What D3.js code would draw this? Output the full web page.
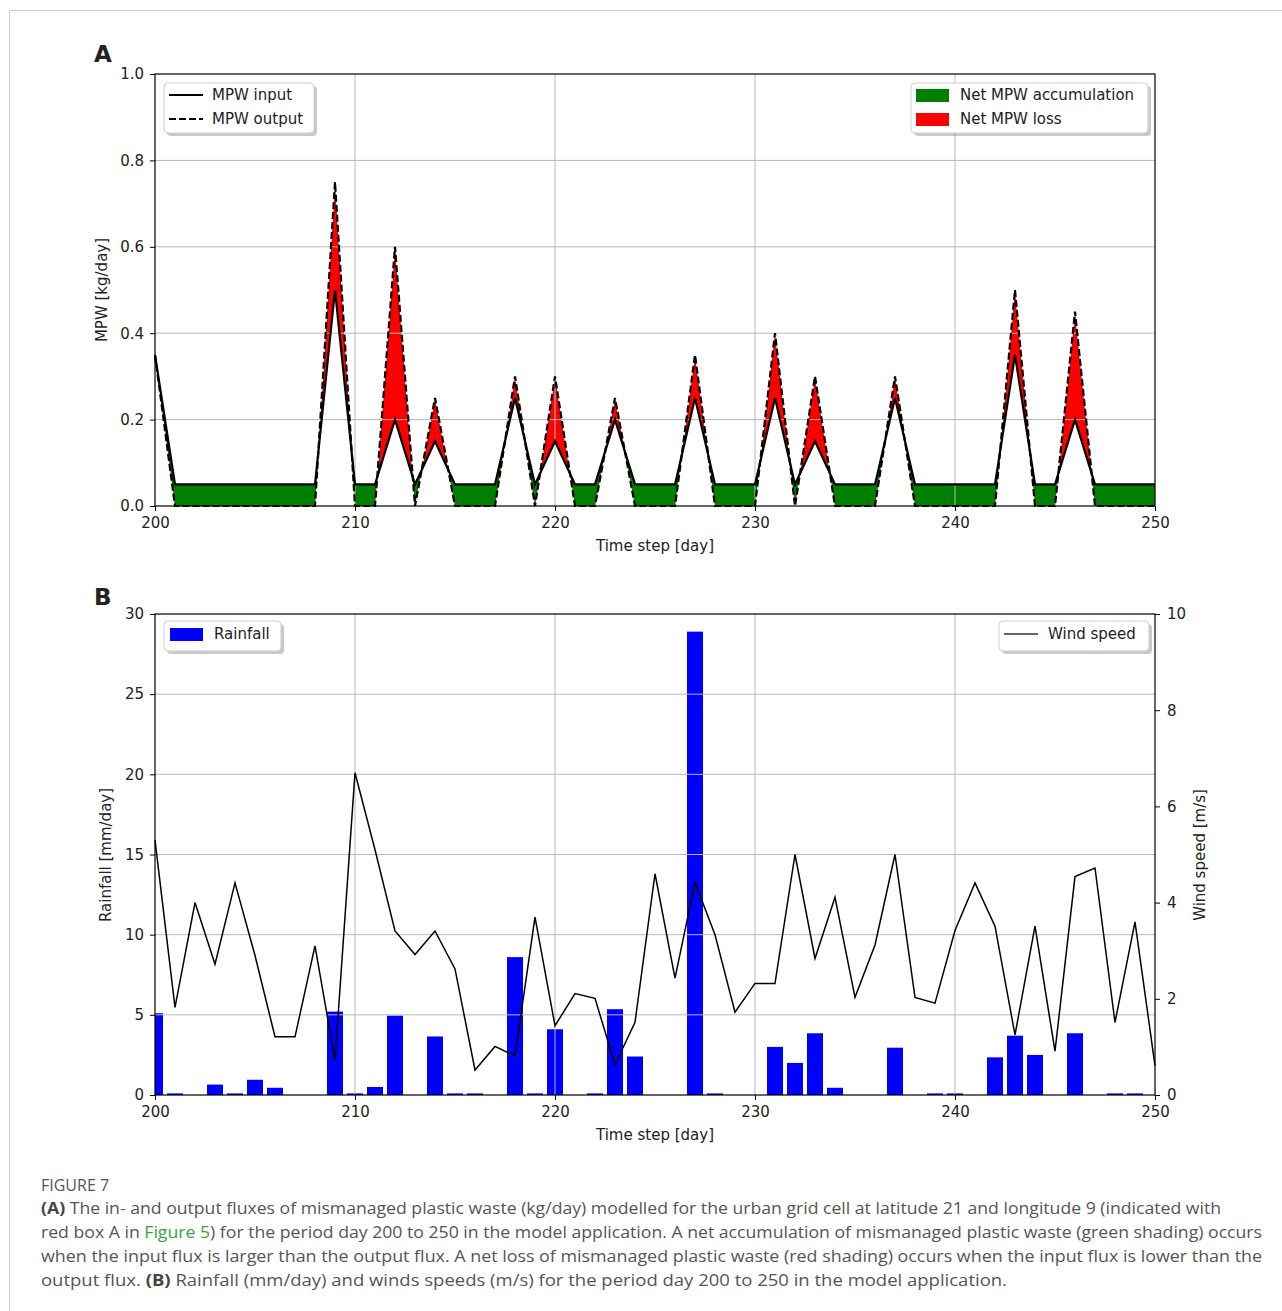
<!DOCTYPE html>
<html lang="en">
<head>
<meta charset="UTF-8">
<title>Figure 7</title>
<script src="https://cdn.jsdelivr.net/npm/d3@7"></script>
<style>
  body { margin: 0; background: #fff; }
  svg text { font-family: "DejaVu Sans", sans-serif; fill: #222; }
  .caption text { font-family: "Open Sans", "Noto Sans", sans-serif; fill: #555; }
</style>
</head>
<body>
<svg id="fig" width="1282" height="1311"></svg>
<script>
// days 200..250
const days = d3.range(200, 251);
const xTicks = [200, 210, 220, 230, 240, 250];

// panel A: MPW fluxes (kg/day)
const mpwInput = [0.35, 0.05, 0.05, 0.05, 0.05, 0.05, 0.05, 0.05, 0.05, 0.5,
  0.05, 0.05, 0.2, 0.05, 0.15, 0.05, 0.05, 0.05, 0.25, 0.05,
  0.15, 0.05, 0.05, 0.2, 0.05, 0.05, 0.05, 0.25, 0.05, 0.05,
  0.05, 0.25, 0.05, 0.15, 0.05, 0.05, 0.05, 0.25, 0.05, 0.05,
  0.05, 0.05, 0.05, 0.35, 0.05, 0.05, 0.2, 0.05, 0.05, 0.05, 0.05];
const mpwOutput = [0.35, 0, 0, 0, 0, 0, 0, 0, 0, 0.75,
  0, 0, 0.6, 0, 0.25, 0, 0, 0, 0.3, 0,
  0.3, 0, 0, 0.25, 0, 0, 0, 0.35, 0, 0,
  0, 0.4, 0, 0.3, 0, 0, 0, 0.3, 0, 0,
  0, 0, 0, 0.5, 0, 0, 0.45, 0, 0, 0, 0];
const mpwTicks = [0, 0.2, 0.4, 0.6, 0.8, 1.0];

// panel B: rainfall (mm/day) and wind speed (m/s)
const rainfall = [5.1, 0.1, 0, 0.65, 0.1, 0.95, 0.45, 0, 0, 5.2,
  0.1, 0.5, 4.95, 0, 3.65, 0.1, 0.1, 0, 8.6, 0.1,
  4.1, 0, 0.1, 5.35, 2.4, 0, 0, 28.9, 0.1, 0,
  0, 3.0, 2.0, 3.85, 0.45, 0, 0, 2.95, 0, 0.1,
  0.1, 0, 2.35, 3.7, 2.5, 0, 3.85, 0, 0.1, 0.1, 0];
const windSpeed = [5.3, 1.82, 4.0, 2.72, 4.41, 2.9, 1.21, 1.21, 3.1, 0.72,
  6.7, 5.1, 3.41, 2.92, 3.41, 2.62, 0.52, 1.01, 0.81, 3.7,
  1.44, 2.11, 2.01, 0.63, 1.51, 4.6, 2.43, 4.42, 3.33, 1.72,
  2.32, 2.32, 5.0, 2.84, 4.11, 2.03, 3.12, 5.0, 2.03, 1.91,
  3.42, 4.41, 3.51, 1.25, 3.51, 0.91, 4.54, 4.72, 1.51, 3.6, 0.61];
const rainTicks = [0, 5, 10, 15, 20, 25, 30];
const windTicks = [0, 2, 4, 6, 8, 10];

const svg = d3.select('#fig');
svg.append('rect').attr('width', 1282).attr('height', 1311).attr('fill', '#fff');
// outer frame
svg.append('path').attr('d', 'M9.5,1311 V10.5 H1282').attr('fill', 'none').attr('stroke', '#d0d0d0');

const L = 155, R = 1155;
const x = d3.scaleLinear().domain([200, 250]).range([L, R]);

function styleAxis(g) {
  g.select('.domain').remove();
  g.selectAll('.tick line').attr('stroke', '#000').attr('stroke-width', 1);
  g.selectAll('.tick text').attr('font-size', 15).attr('fill', '#222');
}

function grid(g, yScale, yT, top, bottom) {
  const gg = g.append('g').attr('stroke', '#b8b8b8').attr('stroke-width', 1);
  gg.selectAll('line.v').data(xTicks.slice(1, -1)).join('line')
    .attr('x1', d => x(d)).attr('x2', d => x(d)).attr('y1', top).attr('y2', bottom);
  gg.selectAll('line.h').data(yT.slice(1, -1)).join('line')
    .attr('x1', L).attr('x2', R).attr('y1', d => yScale(d)).attr('y2', d => yScale(d));
}

function legendBox(g, x0, y0, w, h) {
  g.append('rect').attr('x', x0 + 3).attr('y', y0 + 3).attr('width', w).attr('height', h)
    .attr('rx', 4).attr('fill', '#888').attr('opacity', 0.45);
  g.append('rect').attr('x', x0).attr('y', y0).attr('width', w).attr('height', h)
    .attr('rx', 4).attr('fill', '#fff').attr('stroke', '#cfcfcf');
}

// ---------- Panel A ----------
const TA = 74, BA = 506;
const yA = d3.scaleLinear().domain([0, 1]).range([BA, TA]);
const gA = svg.append('g');
const ptsA = days.map((d, i) => ({ d, inp: mpwInput[i], out: mpwOutput[i] }));

const defs = svg.append('defs');
defs.append('clipPath').attr('id', 'belowIn').append('path')
  .attr('d', d3.area().x(p => x(p.d)).y0(yA(0)).y1(p => yA(p.inp))(ptsA));
defs.append('clipPath').attr('id', 'belowOut').append('path')
  .attr('d', d3.area().x(p => x(p.d)).y0(yA(0)).y1(p => yA(p.out))(ptsA));
defs.append('clipPath').attr('id', 'plotB').append('rect')
  .attr('x', L).attr('y', 614).attr('width', R - L).attr('height', 1095 - 614);

const between = d3.area().x(p => x(p.d)).y0(p => yA(p.out)).y1(p => yA(p.inp));
gA.append('path').attr('d', between(ptsA)).attr('fill', '#008000').attr('clip-path', 'url(#belowIn)');
gA.append('path').attr('d', between(ptsA)).attr('fill', '#ff0000').attr('clip-path', 'url(#belowOut)');

grid(gA, yA, mpwTicks, TA, BA);

gA.append('path').attr('d', d3.line().x(p => x(p.d)).y(p => yA(p.inp))(ptsA))
  .attr('fill', 'none').attr('stroke', '#000').attr('stroke-width', 2.2);
gA.append('path').attr('d', d3.line().x(p => x(p.d)).y(p => yA(p.out))(ptsA))
  .attr('fill', 'none').attr('stroke', '#000').attr('stroke-width', 2.2)
  .attr('stroke-dasharray', '7,3');

gA.append('rect').attr('x', L).attr('y', TA).attr('width', R - L).attr('height', BA - TA)
  .attr('fill', 'none').attr('stroke', '#000').attr('stroke-width', 1.2);

gA.append('g').attr('transform', `translate(0,${BA})`)
  .call(d3.axisBottom(x).tickValues(xTicks).tickSize(5).tickPadding(6).tickFormat(d3.format('d')))
  .call(styleAxis);
gA.append('g').attr('transform', `translate(${L},0)`)
  .call(d3.axisLeft(yA).tickValues(mpwTicks).tickSize(5).tickPadding(6).tickFormat(d3.format('.1f')))
  .call(styleAxis);

gA.append('text').attr('x', 655).attr('y', 551).attr('text-anchor', 'middle').attr('font-size', 15).text('Time step [day]');
gA.append('text').attr('transform', 'translate(107,290) rotate(-90)').attr('text-anchor', 'middle')
  .attr('font-size', 15).text('MPW [kg/day]');
gA.append('text').attr('x', 94).attr('y', 62).attr('font-size', 23).attr('font-weight', 'bold')
  .attr('fill', '#000').text('A');

// legends A
const lgA1 = gA.append('g');
legendBox(lgA1, 164, 83, 150, 50);
lgA1.append('line').attr('x1', 169).attr('x2', 203).attr('y1', 95).attr('y2', 95).attr('stroke', '#000').attr('stroke-width', 2);
lgA1.append('line').attr('x1', 169).attr('x2', 203).attr('y1', 119).attr('y2', 119).attr('stroke', '#000').attr('stroke-width', 2).attr('stroke-dasharray', '7,3');
lgA1.append('text').attr('x', 212).attr('y', 100).attr('font-size', 15).text('MPW input');
lgA1.append('text').attr('x', 212).attr('y', 124).attr('font-size', 15).text('MPW output');

const lgA2 = gA.append('g');
legendBox(lgA2, 911, 83, 237, 50);
lgA2.append('rect').attr('x', 916).attr('y', 89).attr('width', 33).attr('height', 13).attr('fill', '#008000');
lgA2.append('rect').attr('x', 916).attr('y', 113).attr('width', 33).attr('height', 13).attr('fill', '#ff0000');
lgA2.append('text').attr('x', 960).attr('y', 100).attr('font-size', 15).text('Net MPW accumulation');
lgA2.append('text').attr('x', 960).attr('y', 124).attr('font-size', 15).text('Net MPW loss');

// ---------- Panel B ----------
const TB = 614, BB = 1095;
const yR = d3.scaleLinear().domain([0, 30]).range([BB, TB]);
const yW = d3.scaleLinear().domain([0, 10]).range([BB, TB]);
const gB = svg.append('g');
const ptsB = days.map((d, i) => ({ d, rain: rainfall[i], wind: windSpeed[i] }));
const barW = x(200.8) - x(200);

gB.append('g').attr('clip-path', 'url(#plotB)')
  .selectAll('rect').data(ptsB.filter(p => p.rain > 0)).join('rect')
  .attr('x', p => x(p.d) - barW / 2).attr('width', barW)
  .attr('y', p => yR(p.rain)).attr('height', p => yR(0) - yR(p.rain))
  .attr('fill', '#0000ff');

grid(gB, yR, rainTicks, TB, BB);

gB.append('path').attr('d', d3.line().x(p => x(p.d)).y(p => yW(p.wind))(ptsB))
  .attr('fill', 'none').attr('stroke', '#000').attr('stroke-width', 1.5);

gB.append('rect').attr('x', L).attr('y', TB).attr('width', R - L).attr('height', BB - TB)
  .attr('fill', 'none').attr('stroke', '#000').attr('stroke-width', 1.2);

gB.append('g').attr('transform', `translate(0,${BB})`)
  .call(d3.axisBottom(x).tickValues(xTicks).tickSize(5).tickPadding(6).tickFormat(d3.format('d')))
  .call(styleAxis);
gB.append('g').attr('transform', `translate(${L},0)`)
  .call(d3.axisLeft(yR).tickValues(rainTicks).tickSize(5).tickPadding(6))
  .call(styleAxis);
gB.append('g').attr('transform', `translate(${R},0)`)
  .call(d3.axisRight(yW).tickValues(windTicks).tickSize(5).tickPadding(7))
  .call(styleAxis);

gB.append('text').attr('x', 655).attr('y', 1140).attr('text-anchor', 'middle').attr('font-size', 15).text('Time step [day]');
gB.append('text').attr('transform', 'translate(111,855) rotate(-90)').attr('text-anchor', 'middle')
  .attr('font-size', 15).text('Rainfall [mm/day]');
gB.append('text').attr('transform', 'translate(1205,855) rotate(-90)').attr('text-anchor', 'middle')
  .attr('font-size', 15).text('Wind speed [m/s]');
gB.append('text').attr('x', 94).attr('y', 605).attr('font-size', 23).attr('font-weight', 'bold')
  .attr('fill', '#000').text('B');

const lgB1 = gB.append('g');
legendBox(lgB1, 164, 621, 117, 30);
lgB1.append('rect').attr('x', 170).attr('y', 628).attr('width', 33).attr('height', 13).attr('fill', '#0000ff');
lgB1.append('text').attr('x', 214).attr('y', 639).attr('font-size', 15).text('Rainfall');

const lgB2 = gB.append('g');
legendBox(lgB2, 999, 621, 150, 30);
lgB2.append('line').attr('x1', 1004).attr('x2', 1038).attr('y1', 634).attr('y2', 634).attr('stroke', '#333').attr('stroke-width', 1.5);
lgB2.append('text').attr('x', 1048).attr('y', 639).attr('font-size', 15).text('Wind speed');

// ---------- caption ----------
const cap = svg.append('g').attr('class', 'caption');
cap.append('text').attr('x', 41).attr('y', 1191).attr('font-size', 16).text('FIGURE 7');
const lines = [
  { y: 1214, w: 1180, parts: [['(A)', true], [' The in- and output fluxes of mismanaged plastic waste (kg/day) modelled for the urban grid cell at latitude 21 and longitude 9 (indicated with']] },
  { y: 1238, w: 1221, parts: [['red box A in '], ['Figure 5', false, '#3aa33a'], [') for the period day 200 to 250 in the model application. A net accumulation of mismanaged plastic waste (green shading) occurs']] },
  { y: 1262, w: 1221, parts: [['when the input flux is larger than the output flux. A net loss of mismanaged plastic waste (red shading) occurs when the input flux is lower than the']] },
  { y: 1286, w: 966, parts: [['output flux. '], ['(B)', true], [' Rainfall (mm/day) and winds speeds (m/s) for the period day 200 to 250 in the model application.']] }
];
lines.forEach(l => {
  const t = cap.append('text').attr('x', 41).attr('y', l.y).attr('font-size', 16)
    .attr('textLength', l.w).attr('lengthAdjust', 'spacingAndGlyphs');
  l.parts.forEach(p => {
    const s = t.append('tspan').text(p[0]);
    if (p[1]) s.attr('font-weight', 'bold').style('fill', '#444');
    if (p[2]) s.style('fill', p[2]);
  });
});
</script>
</body>
</html>
